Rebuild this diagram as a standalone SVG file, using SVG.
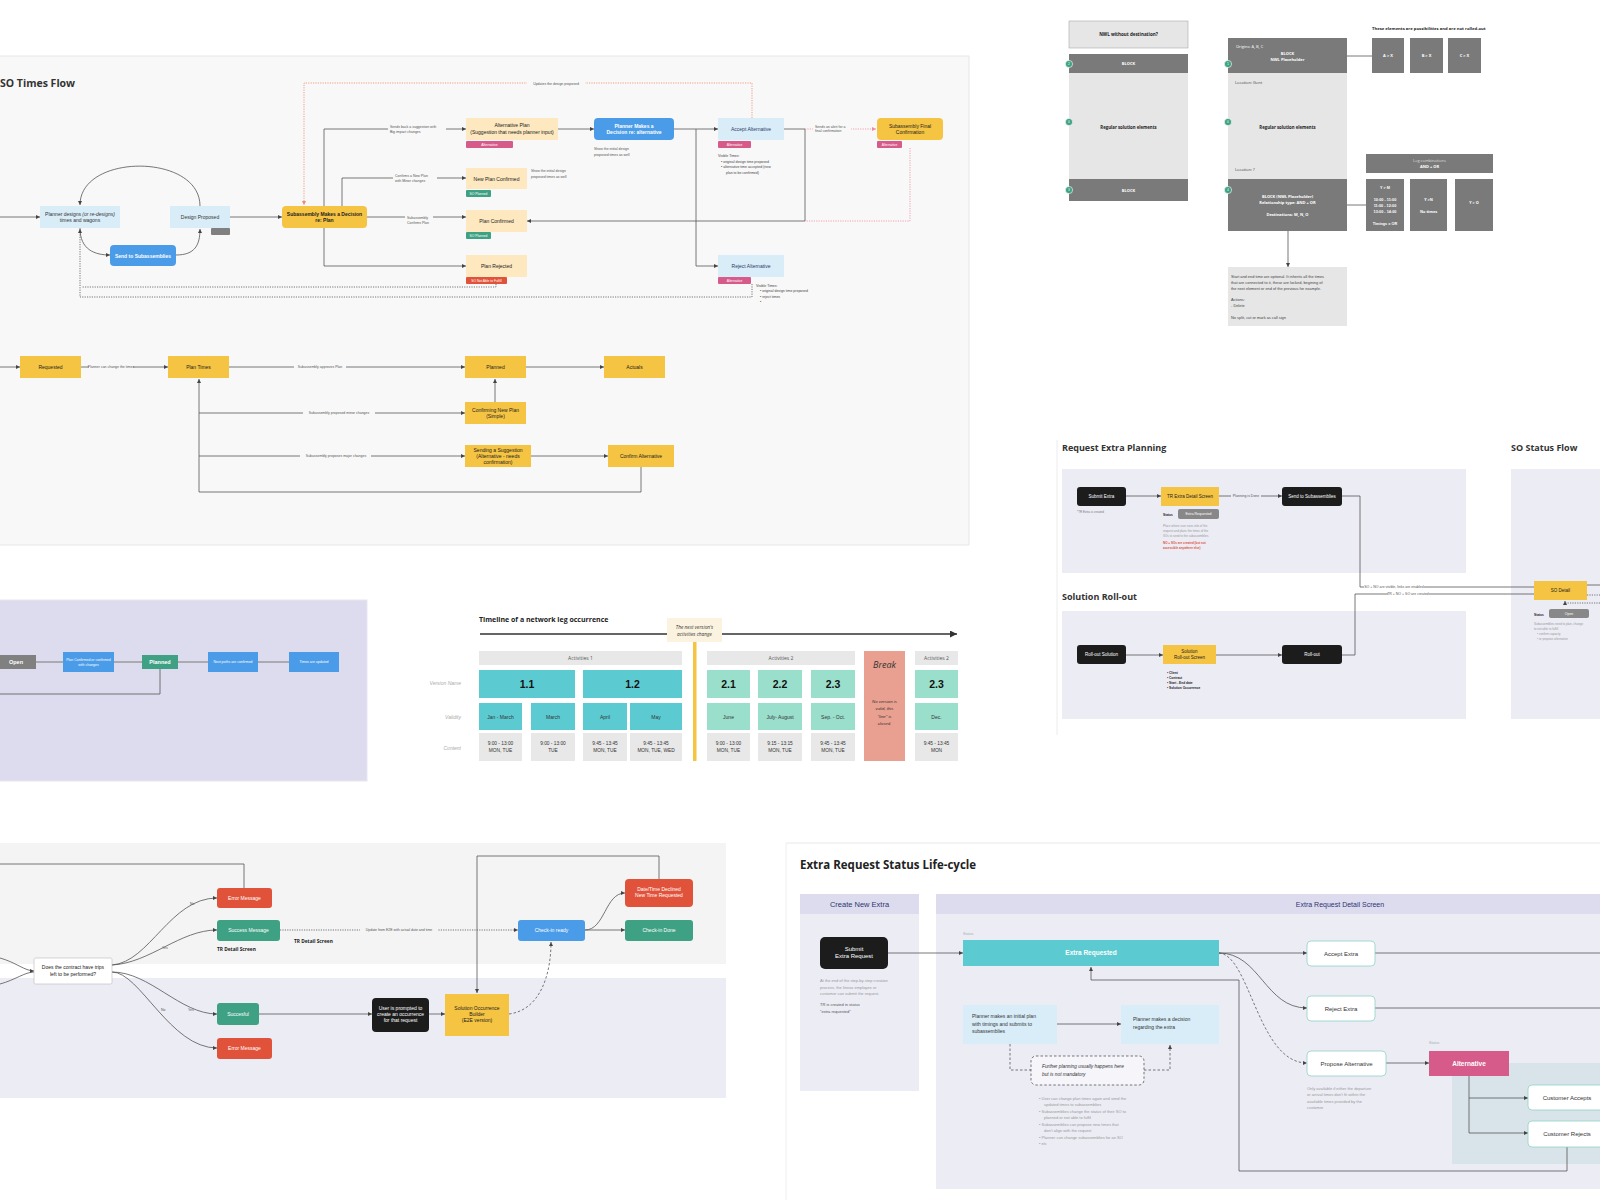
<svg xmlns="http://www.w3.org/2000/svg" width="1600" height="1200" viewBox="0 0 1600 1200">
<style>
text{font-family:"Liberation Sans",Arial,sans-serif}
.os{font-family:"Open Sans","Liberation Sans",sans-serif}
.m{text-anchor:middle}
.b{font-weight:bold}
.i{font-style:italic}
.w{fill:#fff}
.g{fill:#777}
.lb{font-size:3.5px;fill:#555}
.n5{font-size:5px}
.ln{fill:none;stroke:#555;stroke-width:0.8}
.lt{fill:none;stroke:#888;stroke-width:1.2}
.dt{stroke-dasharray:1.2 1.2}
.ds{stroke-dasharray:2.5 2}
.or{fill:none;stroke:#f0876a;stroke-width:0.8;stroke-dasharray:1.2 1.2}
.pk{fill:none;stroke:#f08ca0;stroke-width:0.8;stroke-dasharray:1.2 1.2}
.yel{fill:#f6c443}
.blu{fill:#4a9be8}
.lbl{fill:#d9edf8}
.pch{fill:#fde8bf}
.pnk{fill:#d65b8b}
.grn{fill:#3fa184}
.red{fill:#e0523a}
.blk{fill:#1c1c1c}
.dk{fill:#7a7a7a}
.lg{fill:#e6e6e6}
.tl{fill:#5ccbd1}
.mt{fill:#9adfcc}
.cg{fill:#e8e8e8}
.wb{fill:#fff;stroke:#8fd3c4;stroke-width:0.8}
.gc{fill:#3fa184;stroke:#fff;stroke-width:0.6}
</style>
<defs>
<marker id="a" viewBox="0 0 6 6" refX="6" refY="3" markerWidth="4" markerHeight="4" markerUnits="userSpaceOnUse" orient="auto"><path d="M0,0L6,3L0,6z" fill="#444"/></marker>
<marker id="ao" viewBox="0 0 6 6" refX="6" refY="3" markerWidth="4" markerHeight="4" markerUnits="userSpaceOnUse" orient="auto"><path d="M0,0L6,3L0,6z" fill="#f0876a"/></marker>
<marker id="ak" viewBox="0 0 6 6" refX="6" refY="3" markerWidth="4" markerHeight="4" markerUnits="userSpaceOnUse" orient="auto"><path d="M0,0L6,3L0,6z" fill="#f08ca0"/></marker>
<marker id="ab" viewBox="0 0 6 6" refX="6" refY="3" markerWidth="7" markerHeight="7" markerUnits="userSpaceOnUse" orient="auto"><path d="M0,0L6,3L0,6z" fill="#333"/></marker>
</defs>
<rect width="1600" height="1200" fill="#fff"/>

<!-- panels / backgrounds -->
<g id="panels">
<rect x="-1" y="56" width="970" height="489" fill="#f8f8f8" stroke="#e2e2e2" stroke-width="0.8"/>
<rect x="-1" y="600" width="368" height="181" fill="#dcdcee" stroke="#e6e6f0" stroke-width="1"/>
<rect x="1062" y="469" width="404" height="104" fill="#ececf5"/>
<rect x="1062" y="611" width="404" height="108" fill="#ececf5"/>
<rect x="1511" y="469" width="100" height="250" fill="#ececf5"/>
<line x1="1057" y1="440" x2="1057" y2="735" stroke="#ececec" stroke-width="1"/>
<rect x="-1" y="843" width="727" height="121" fill="#f4f4f4"/>
<rect x="-1" y="978" width="727" height="120" fill="#ececf5"/>
<line x1="786" y1="843" x2="1600" y2="843" stroke="#e8e8e8" stroke-width="1"/>
<line x1="786" y1="843" x2="786" y2="1200" stroke="#eeeeee" stroke-width="1"/>
<rect x="800" y="894" width="119" height="197" fill="#ececf5"/>
<rect x="800" y="894" width="119" height="20" fill="#dcdcee"/>
<rect x="936" y="894" width="670" height="295" fill="#ececf5"/>
<rect x="936" y="894" width="670" height="20" fill="#dcdcee"/>
<rect x="1452" y="1063" width="150" height="101" fill="#d8e4ea"/>
</g>

<!-- titles -->
<g id="titles" fill="#222">
<text x="0" y="87" class="os b" font-size="10.5" fill="#333">SO Times Flow</text>
<text x="1062" y="451" class="os b" font-size="9" fill="#333">Request Extra Planning</text>
<text x="1062" y="600" class="os b" font-size="9" fill="#333">Solution Roll-out</text>
<text x="1511" y="451" class="os b" font-size="9" fill="#333">SO Status Flow</text>
<text x="479" y="622" class="os b" font-size="7" fill="#222">Timeline of a network leg occurrence</text>
<text x="800" y="869" class="os b" font-size="11.5" fill="#222">Extra Request Status Life-cycle</text>
<text x="859.5" y="906.5" class="m" font-size="7.5" fill="#2f3470">Create New Extra</text>
<text x="1340" y="906.5" class="m" font-size="7" fill="#2f3470">Extra Request Detail Screen</text>
</g>

<!-- connectors -->
<g id="connectors">
<path class="ln" d="M0,217H40" marker-end="url(#a)"/>
<path class="ln" d="M200,206C200,153 80,153 80,205" marker-end="url(#a)"/>
<path class="ln" d="M80,228C80,250 95,255 110,255" marker-end="url(#a)"/>
<path class="ln" d="M176,255C195,255 200,245 200,229" marker-end="url(#a)"/>
<path class="ln" d="M230,217H282" marker-end="url(#a)"/>
<path class="ln" d="M324,206V129H466" marker-end="url(#a)"/>
<path class="ln" d="M342,206V178H466" marker-end="url(#a)"/>
<path class="ln" d="M367,217H466" marker-end="url(#a)"/>
<path class="ln" d="M324,228V266H466" marker-end="url(#a)"/>
<path class="ln" d="M558,129H594" marker-end="url(#a)"/>
<path class="ln" d="M674,129H718" marker-end="url(#a)"/>
<path class="ln" d="M696,129V266H718" marker-end="url(#a)"/>
<path class="ln" d="M784,129H805V221H527" marker-end="url(#a)"/>
<path class="or" d="M752,118V83H304V205" marker-end="url(#ao)"/>
<path class="pk" d="M805,129H876" marker-end="url(#ak)"/>
<path class="pk" d="M910,148V221H805"/>
<path class="ln dt" d="M752,284V297H80V229" stroke="#888" marker-end="url(#a)"/>
<path class="ln dt" d="M496,284V287H82" stroke="#888"/>
<rect x="388" y="124" width="58" height="10" fill="#f8f8f8"/>
<text x="390" y="127.5" class="lb">Sends back a suggestion with</text>
<text x="390" y="132.5" class="lb">Big impact changes</text>
<rect x="393" y="173" width="44" height="10" fill="#f8f8f8"/>
<text x="395" y="176.5" class="lb">Confirms a New Plan</text>
<text x="395" y="181.5" class="lb">with Minor changes</text>
<rect x="405" y="215" width="28" height="10" fill="#f8f8f8"/>
<text x="407" y="219" class="lb">Subassembly</text>
<text x="407" y="224" class="lb">Confirms Plan</text>
<rect x="527" y="81" width="58" height="5" fill="#f8f8f8"/>
<text x="556" y="84.5" class="lb m">Updates the design proposed</text>
<rect x="813" y="124" width="38" height="10" fill="#f8f8f8"/>
<text x="815" y="127.5" class="lb" font-size="3">Sends an alert for a</text>
<text x="815" y="132" class="lb" font-size="3">final confirmation</text>

<path class="ln" d="M0,367H20" marker-end="url(#a)"/>
<path class="ln" d="M81,367H168" marker-end="url(#a)"/>
<path class="ln" d="M229,367H465" marker-end="url(#a)"/>
<path class="ln" d="M526,367H604" marker-end="url(#a)"/>
<path class="ln" d="M495,402V379" marker-end="url(#a)"/>
<path class="ln" d="M641,467V492H199V379" marker-end="url(#a)"/>
<path class="ln" d="M199,413H465" marker-end="url(#a)"/>
<path class="ln" d="M199,456H465" marker-end="url(#a)"/>
<path class="ln" d="M531,456H608" marker-end="url(#a)"/>
<rect x="89" y="365" width="44" height="4" fill="#f8f8f8"/>
<text x="111" y="368.2" class="lb m" font-size="3">Planner can change the times</text>
<rect x="294" y="365" width="52" height="4" fill="#f8f8f8"/>
<text x="320" y="368.2" class="lb m" font-size="3.2">Subassembly approves Plan</text>
<rect x="303" y="411" width="72" height="4" fill="#f8f8f8"/>
<text x="339" y="414.2" class="lb m" font-size="3.2">Subassembly proposed minor changes</text>
<rect x="300" y="454" width="71" height="4" fill="#f8f8f8"/>
<text x="336" y="457.2" class="lb m" font-size="3.2">Subassembly proposes major changes</text>

<path class="ln" d="M1347,56H1372" stroke="#999"/>
<path class="ln" d="M1347,205H1366" stroke="#999"/>
<path class="ln" d="M1288,231V267" stroke="#999" marker-end="url(#a)"/>

<path class="lt" d="M36,662H63"/>
<path class="lt" d="M114,662H142"/>
<path class="lt" d="M178,662H208"/>
<path class="lt" d="M258,662H289"/>
<path class="ln" d="M160,669V694H0" stroke="#888"/>

<path class="ln" d="M1126,496H1161" marker-end="url(#a)"/>
<path class="ln" d="M1219,496H1282" marker-end="url(#a)"/>
<rect x="1231" y="494" width="30" height="4" fill="#ececf5"/>
<text x="1246" y="497.2" class="lb m" font-size="3">Planning is Done</text>
<path class="ln" d="M1126,655H1163" marker-end="url(#a)"/>
<path class="ln" d="M1216,655H1282" marker-end="url(#a)"/>
<path class="ln" d="M1342,496H1360V587H1534" stroke="#888"/>
<path class="ln" d="M1342,655H1355V594H1534" stroke="#888"/>
<rect x="1364" y="585" width="60" height="4" fill="#fff"/>
<text x="1394" y="588.2" class="lb m" font-size="2.8">SO + NO are visible, links are enabled</text>
<rect x="1388" y="592" width="41" height="4" fill="#fff"/>
<text x="1408" y="595.2" class="lb m" font-size="2.8">TR + NO + SO are created</text>
<path class="ln" d="M1587,585H1600" stroke="#888"/>
<path class="ln dt" d="M1587,595H1600" stroke="#888"/>
<path class="ln dt" d="M1600,603H1565V601" stroke="#888" marker-end="url(#a)"/>

<path class="ln" d="M0,864H244V888" stroke="#888"/>
<path class="ln" d="M0,958C15,962 25,971 34,971" stroke="#888" marker-end="url(#a)"/>
<path class="ln" d="M0,984C15,980 25,972 34,972" stroke="#888"/>
<path class="ln" d="M112,965C150,962 170,898 217,898" stroke="#888" marker-end="url(#a)"/>
<path class="ln" d="M112,965C150,963 180,930 217,930" stroke="#888" marker-end="url(#a)"/>
<path class="ln" d="M112,972C150,972 180,1014 217,1014" stroke="#888" marker-end="url(#a)"/>
<path class="ln" d="M112,972C140,972 170,1048 217,1048" stroke="#888" marker-end="url(#a)"/>
<text x="190" y="905" class="lb" font-size="2.8">No</text>
<text x="162" y="949" class="lb" font-size="2.8">Yes</text>
<text x="188" y="1011" class="lb" font-size="2.8">Yes</text>
<text x="161" y="1011" class="lb" font-size="2.8">No</text>
<path class="ln dt" d="M280,930H518" stroke="#777" marker-end="url(#a)"/>
<rect x="360" y="928" width="78" height="4" fill="#f4f4f4"/>
<text x="399" y="931.2" class="lb m" font-size="2.8">Update from E2E with actual date and time</text>
<path class="ln" d="M259,1014H372" stroke="#777" marker-end="url(#a)"/>
<path class="ln" d="M429,1014H445" stroke="#777" marker-end="url(#a)"/>
<path class="ln ds" d="M509,1014C540,1010 551,975 551,942" stroke="#777" marker-end="url(#a)"/>
<path class="ln" d="M585,930C605,930 605,893 625,893" stroke="#777" marker-end="url(#a)"/>
<path class="ln" d="M585,930H625" stroke="#777" marker-end="url(#a)"/>
<path class="ln" d="M659,879V856H477V993" stroke="#777" marker-end="url(#a)"/>

<path class="ln" d="M888,953H963" stroke="#888" marker-end="url(#a)"/>
<path class="ln" d="M1219,953H1307" marker-end="url(#a)"/>
<path class="ln" d="M1219,953C1260,953 1265,1008 1307,1008" marker-end="url(#a)"/>
<path class="ln ds" d="M1219,953C1250,955 1258,1063 1307,1063" marker-end="url(#a)"/>
<path class="ln" d="M1375,953H1600" stroke="#888"/>
<path class="ln" d="M1375,1008H1600" stroke="#888"/>
<path class="ln" d="M1386,1063H1429" stroke="#888" marker-end="url(#a)"/>
<path class="ln" d="M1469,1076V1133H1528" marker-end="url(#a)"/>
<path class="ln" d="M1469,1098H1528" marker-end="url(#a)"/>
<path class="ln" d="M1567,1147V1171H1239V980H1091V967" marker-end="url(#a)"/>
<path class="ln" d="M1057,1024H1121" marker-end="url(#a)"/>
<path class="ln ds" d="M1010,1044V1070H1031" stroke="#777"/>
<path class="ln ds" d="M1144,1070H1170V1045" stroke="#777" marker-end="url(#a)"/>

<path d="M480,634H667M722,634H957" stroke="#333" stroke-width="1.6" fill="none" marker-end="url(#ab)"/>
</g>

<!-- SO Times Flow nodes -->
<g fill="#222">
<g id="n-planner"><rect x="40" y="206" width="80" height="22" class="lbl"/><text x="80" y="215.5" class="m n5" fill="#333">Planner designs <tspan class="i">(or re-designs)</tspan></text><text x="80" y="222" class="m n5" fill="#333">times and wagons</text></g>
<g id="n-design"><rect x="170" y="206" width="60" height="22" class="lbl"/><text x="200" y="219" class="m n5" fill="#333">Design Proposed</text><rect x="211" y="228" width="19" height="7" rx="1" fill="#808080"/></g>
<g id="n-send"><rect x="110" y="245" width="66" height="21" rx="4" class="blu"/><text x="143" y="257.5" class="m n5 b w">Send to Subassemblies</text></g>
<g id="n-decision"><rect x="282" y="206" width="85" height="22" rx="4" class="yel"/><text x="324.5" y="215.5" class="m n5 b">Subassembly Makes a Decision</text><text x="324.5" y="222" class="m n5 b">re: Plan</text></g>
<g id="n-altplan"><rect x="466" y="118" width="92" height="22" class="pch"/><text x="512" y="127" class="m n5">Alternative Plan</text><text x="512" y="133.5" class="m n5">(Suggestion that needs planner input)</text><rect x="466" y="141" width="47" height="7" rx="1" class="pnk"/><text x="489.5" y="146" class="m w" font-size="3.5">Alternative</text></g>
<g id="n-newplan"><rect x="466" y="168" width="61" height="21" class="pch"/><text x="496.5" y="180.5" class="m n5">New Plan Confirmed</text><rect x="466" y="190" width="25" height="7" rx="1" class="grn"/><text x="478.5" y="195" class="m w" font-size="3.3">SO Planned</text></g>
<text x="531" y="172" class="lb">Show the initial design</text>
<text x="531" y="177.5" class="lb">proposed times as well</text>
<g id="n-planconf"><rect x="466" y="210" width="61" height="22" class="pch"/><text x="496.5" y="222.5" class="m n5">Plan Confirmed</text><rect x="466" y="232" width="25" height="7" rx="1" class="grn"/><text x="478.5" y="237" class="m w" font-size="3.3">SO Planned</text></g>
<g id="n-planrej"><rect x="466" y="255" width="61" height="22" class="pch"/><text x="496.5" y="267.5" class="m n5">Plan Rejected</text><rect x="466" y="277" width="41" height="7" rx="1" class="red"/><text x="486.5" y="282" class="m w" font-size="3.3">SO Not Able to Fulfill</text></g>
<g id="n-plannerdec"><rect x="594" y="118" width="80" height="22" rx="4" class="blu"/><text x="634" y="127.5" class="m n5 b w">Planner Makes a</text><text x="634" y="134" class="m n5 b w">Decision re: alternative</text></g>
<text x="594" y="150" class="lb">Show the initial design</text>
<text x="594" y="155.5" class="lb">proposed times as well</text>
<g id="n-accept"><rect x="718" y="118" width="66" height="22" class="lbl"/><text x="751" y="130.5" class="m n5" fill="#2a3a6a">Accept Alternative</text><rect x="718" y="141" width="33" height="7" rx="1" class="pnk"/><text x="734.5" y="146" class="m w" font-size="3.3">Alternative</text></g>
<g font-size="3.5" fill="#444"><text x="718" y="157">Visible Times:</text><text x="721" y="162.5">•  original design time proposed</text><text x="721" y="168">•  alternative time accepted (new</text><text x="726" y="173.5">plan to be confirmed)</text></g>
<g id="n-reject"><rect x="718" y="255" width="66" height="22" class="lbl"/><text x="751" y="267.5" class="m n5" fill="#2a3a6a">Reject Alternative</text><rect x="718" y="277" width="33" height="7" rx="1" class="pnk"/><text x="734.5" y="282" class="m w" font-size="3.3">Alternative</text></g>
<g font-size="3.5" fill="#444"><text x="756" y="286.5">Visible Times:</text><text x="760" y="292">•  original design time proposed</text><text x="760" y="297.5">•  reject times</text><text x="760" y="302.5">•</text></g>
<g id="n-final"><rect x="877" y="118" width="66" height="22" rx="4" class="yel"/><text x="910" y="127.5" class="m n5">Subassembly Final</text><text x="910" y="134" class="m n5">Confirmation</text><rect x="877" y="141" width="25" height="7" rx="1" class="pnk"/><text x="889.5" y="146" class="m w" font-size="3.3">Alternative</text></g>

<g id="n-requested"><rect x="20" y="356" width="61" height="22" class="yel"/><text x="50.5" y="368.8" class="m n5">Requested</text></g>
<g id="n-plantimes"><rect x="168" y="356" width="61" height="22" class="yel"/><text x="198.5" y="368.8" class="m n5">Plan Times</text></g>
<g id="n-planned"><rect x="465" y="356" width="61" height="22" class="yel"/><text x="495.5" y="368.8" class="m n5">Planned</text></g>
<g id="n-actuals"><rect x="604" y="356" width="61" height="22" class="yel"/><text x="634.5" y="368.8" class="m n5">Actuals</text></g>
<g id="n-confirming"><rect x="465" y="402" width="61" height="22" class="yel"/><text x="495.5" y="411.5" class="m n5">Confirming New Plan</text><text x="495.5" y="418" class="m n5">(Simple)</text></g>
<g id="n-sending"><rect x="465" y="445" width="66" height="22" class="yel"/><text x="498" y="451.5" class="m n5">Sending a Suggestion</text><text x="498" y="457.5" class="m n5">(Alternative - needs</text><text x="498" y="463.5" class="m n5">confirmation)</text></g>
<g id="n-confirmalt"><rect x="608" y="445" width="66" height="22" class="yel"/><text x="641" y="457.8" class="m n5">Confirm Alternative</text></g>

<!-- top right blocks -->
<g id="n-nwl"><rect x="1069" y="21" width="119" height="27" class="lg" stroke="#aaa" stroke-width="0.6"/><text x="1128.5" y="36" class="os m b" font-size="4.5">NWL without destination?</text></g>
<g id="n-leftcol">
<rect x="1069" y="54" width="119" height="19" class="dk"/><text x="1128.5" y="65" class="os m b w" font-size="4">BLOCK</text>
<rect x="1069" y="73" width="119" height="106" class="lg"/><text x="1128.5" y="128.5" class="os m b" font-size="4.3">Regular solution elements</text>
<rect x="1069" y="179" width="119" height="22" class="dk"/><text x="1128.5" y="191.5" class="os m b w" font-size="4">BLOCK</text>
<circle cx="1069" cy="64" r="3.6" class="gc"/><circle cx="1069" cy="122" r="3.6" class="gc"/><circle cx="1069" cy="190" r="3.6" class="gc"/>
<text x="1069" y="65.2" class="m w" font-size="3.2">2</text><text x="1069" y="123.2" class="m w" font-size="3.2">0</text><text x="1069" y="191.2" class="m w" font-size="3.2">3</text>
</g>
<g id="n-rightcol">
<rect x="1228" y="38" width="119" height="35" class="dk"/>
<text x="1236" y="47.5" class="os w" font-size="4">Origins: A, B, C</text>
<text x="1287.5" y="54.5" class="os m b w" font-size="4">BLOCK</text>
<text x="1287.5" y="60.5" class="os m b w" font-size="4">NWL Placeholder</text>
<rect x="1228" y="73" width="119" height="106" class="lg"/>
<text x="1235" y="83.5" class="os" font-size="4" fill="#444">Location: Gent</text>
<text x="1287.5" y="128.5" class="os m b" font-size="4.3">Regular solution elements</text>
<text x="1235" y="170.5" class="os" font-size="4" fill="#444">Location: ?</text>
<rect x="1228" y="179" width="119" height="52" class="dk"/>
<text x="1287.5" y="197.5" class="os m b w" font-size="4">BLOCK (NWL Placeholder)</text>
<text x="1287.5" y="203.5" class="os m b w" font-size="4">Relationship type: AND + OR</text>
<text x="1287.5" y="215.5" class="os m b w" font-size="4">Destinations: M, N, O</text>
<circle cx="1228" cy="64" r="3.6" class="gc"/><circle cx="1228" cy="122" r="3.6" class="gc"/><circle cx="1228" cy="190" r="3.6" class="gc"/>
<text x="1228" y="65.2" class="m w" font-size="3.2">1</text><text x="1228" y="123.2" class="m w" font-size="3.2">0</text><text x="1228" y="191.2" class="m w" font-size="3.2">4</text>
</g>
<text x="1372" y="29.5" class="os b" font-size="4.2">These elements are possibilities and are not rolled-out</text>
<g id="n-ax"><rect x="1372" y="38" width="32" height="35" class="dk"/><text x="1388" y="57" class="os m b w" font-size="4">A &gt; X</text></g>
<g id="n-bx"><rect x="1410" y="38" width="33" height="35" class="dk"/><text x="1426.5" y="57" class="os m b w" font-size="4">B &gt; X</text></g>
<g id="n-cx"><rect x="1448" y="38" width="33" height="35" class="dk"/><text x="1464.5" y="57" class="os m b w" font-size="4">C &gt; X</text></g>
<g id="n-legcomb"><rect x="1366" y="154" width="127" height="19" class="dk"/><text x="1429.5" y="162" class="os m" font-size="4" fill="#ddd">Leg combinations</text><text x="1429.5" y="168" class="os m b w" font-size="4">AND + OR</text></g>
<g id="n-ym"><rect x="1366" y="179" width="38" height="52" class="dk"/><g class="os b" font-size="3.8"><text x="1385" y="188.5" class="m w">Y &gt; M</text><text x="1385" y="200.5" class="m w">10:00 - 11:00</text><text x="1385" y="206.5" class="m w">11:00 - 12:00</text><text x="1385" y="212.5" class="m w">13:00 - 14:00</text><text x="1385" y="224.5" class="m w">Timings = OR</text></g></g>
<g id="n-yn"><rect x="1410" y="179" width="37" height="52" class="dk"/><text x="1428.5" y="200.5" class="os m b w" font-size="3.8">Y &gt;N</text><text x="1428.5" y="212.5" class="os m b w" font-size="3.8">No times</text></g>
<g id="n-yo"><rect x="1455" y="179" width="38" height="52" class="dk"/><text x="1474" y="203.5" class="os m b w" font-size="3.8">Y &gt; O</text></g>
<g id="n-note"><rect x="1228" y="267" width="119" height="59" class="lg"/>
<g class="os" font-size="3.9" fill="#444"><text x="1231" y="277.5">Start and end time are optional. It inherits all the times</text><text x="1231" y="283.5">that are connected to it, these are locked, begining of</text><text x="1231" y="289.5">the next element or end of the previous for example.</text><text x="1231" y="301">Actions:</text><text x="1231" y="307">- Delete</text><text x="1231" y="318.5">No split, cut or mark as call sign</text></g></g>

<!-- request extra planning nodes -->
<g id="n-submitextra"><rect x="1077" y="487" width="49" height="19" rx="3" class="blk"/><text x="1101.5" y="498" class="m w" font-size="4.5">Submit Extra</text></g>
<text x="1077" y="513" class="g" font-size="3">*TR Extra is created</text>
<g id="n-trextra"><rect x="1161" y="487" width="58" height="19" class="yel"/><text x="1190" y="498" class="m" font-size="4.5">TR Extra Detail Screen</text></g>
<text x="1163" y="515.5" class="b" font-size="3.2">Status</text>
<rect x="1178" y="509" width="41" height="10" rx="2" fill="#888"/><text x="1198.5" y="515.3" class="m w" font-size="3.5">Extra Requested</text>
<g font-size="3" fill="#999"><text x="1163" y="527">Place where user sees info of the</text><text x="1163" y="532">request and plans the times of the</text><text x="1163" y="537">SOs to send to the subassemblies</text></g>
<g font-size="3" fill="#e0523a" class="b"><text x="1163" y="544">NO + SOs are created (but not</text><text x="1163" y="549">accessible anywhere else)</text></g>
<g id="n-sendsub"><rect x="1282" y="487" width="60" height="19" rx="3" class="blk"/><text x="1312" y="498" class="m w" font-size="4.5">Send to Subassemblies</text></g>
<g id="n-rolloutsol"><rect x="1077" y="645" width="49" height="19" rx="3" class="blk"/><text x="1101.5" y="656" class="m w" font-size="4.5">Roll-out Solution</text></g>
<g id="n-solscreen"><rect x="1163" y="645" width="53" height="19" class="yel"/><text x="1189.5" y="653" class="m" font-size="4.5">Solution</text><text x="1189.5" y="658.5" class="m" font-size="4.5">Roll-out Screen</text></g>
<g font-size="3.2" class="b"><text x="1167" y="674">•  Client</text><text x="1167" y="679">•  Contract</text><text x="1167" y="684">•  Start - End date</text><text x="1167" y="689">•  Solution Occurrence</text></g>
<g id="n-rollout"><rect x="1282" y="645" width="60" height="19" rx="3" class="blk"/><text x="1312" y="656" class="m w" font-size="4.5">Roll-out</text></g>
<g id="n-sodetail"><rect x="1534" y="581" width="53" height="19" class="yel"/><text x="1560.5" y="592" class="m" font-size="4.5">SO Detail</text></g>
<text x="1534" y="615.5" class="b" font-size="3.2">Status</text>
<rect x="1549" y="609" width="40" height="9" rx="2" fill="#888"/><text x="1569" y="615" class="m w" font-size="3.5">Open</text>
<g font-size="3" fill="#999"><text x="1534" y="625">Subassemblies need to plan, change</text><text x="1534" y="630">to not able to fulfill</text><text x="1537" y="635">•  confirm capacity</text><text x="1537" y="640">•  or propose alternative</text></g>

<!-- left middle nodes -->
<g id="n-open"><rect x="-1" y="655" width="37" height="14" fill="#808080"/><text x="16" y="663.8" class="m b w" font-size="5.5">Open</text></g>
<g id="n-planconf2"><rect x="63" y="652" width="51" height="20" class="blu"/><text x="88.5" y="661" class="m w" font-size="3.5">Plan Confirmed or confirmed</text><text x="88.5" y="665.5" class="m w" font-size="3.5">with changes</text></g>
<g id="n-planned2"><rect x="142" y="655" width="36" height="14" class="grn"/><text x="160" y="663.8" class="m b w" font-size="5.5">Planned</text></g>
<g id="n-nextpaths"><rect x="208" y="652" width="50" height="20" class="blu"/><text x="233" y="663.2" class="m w" font-size="3.5">Next paths are confirmed</text></g>
<g id="n-timesupd"><rect x="289" y="652" width="50" height="20" class="blu"/><text x="314" y="663.2" class="m w" font-size="3.5">Times are updated</text></g>

<!-- timeline -->
<g id="timeline">
<rect x="667" y="618" width="55" height="24" fill="#fbf3e0"/>
<text x="694.5" y="629" class="os m i" font-size="4.8" fill="#333">The next version's</text>
<text x="694.5" y="636" class="os m i" font-size="4.8" fill="#333">activities change</text>
<rect x="693" y="642" width="3.5" height="119" class="yel"/>
<rect x="479" y="651" width="203" height="14" class="cg"/><text x="580.5" y="660" class="os m" font-size="5" fill="#555">Activities 1</text>
<rect x="707" y="651" width="148" height="14" class="cg"/><text x="781" y="660" class="os m" font-size="5" fill="#555">Activities 2</text>
<rect x="915" y="651" width="43" height="14" class="cg"/><text x="936.5" y="660" class="os m" font-size="5" fill="#555">Activities 2</text>
<rect x="864" y="651" width="41" height="110" fill="#e9a090"/>
<text x="884.5" y="668" class="os m i" font-size="9" fill="#333">Break</text>
<g class="os i" font-size="4.3" fill="#333"><text x="884.5" y="702.5" class="m">No version is</text><text x="884.5" y="710" class="m">valid, this</text><text x="884.5" y="717.5" class="m">"line" is</text><text x="884.5" y="725" class="m">closed.</text></g>
<g class="os i" font-size="5" fill="#aaa"><text x="461" y="685" text-anchor="end">Version Name</text><text x="461" y="719" text-anchor="end">Validity</text><text x="461" y="750" text-anchor="end">Content</text></g>
<rect x="479" y="670" width="96" height="28" class="tl"/><rect x="583" y="670" width="99" height="28" class="tl"/>
<rect x="707" y="670" width="43" height="28" class="mt"/><rect x="758" y="670" width="44" height="28" class="mt"/><rect x="811" y="670" width="44" height="28" class="mt"/><rect x="915" y="670" width="43" height="28" class="mt"/>
<g class="os b" font-size="10.5" fill="#111"><text x="527" y="688" class="m">1.1</text><text x="632.5" y="688" class="m">1.2</text><text x="728.5" y="688" class="m">2.1</text><text x="780" y="688" class="m">2.2</text><text x="833" y="688" class="m">2.3</text><text x="936.5" y="688" class="m">2.3</text></g>
<rect x="479" y="703" width="43" height="27" class="tl"/><rect x="531" y="703" width="44" height="27" class="tl"/><rect x="583" y="703" width="44" height="27" class="tl"/><rect x="630" y="703" width="52" height="27" class="tl"/>
<rect x="707" y="703" width="43" height="27" class="mt"/><rect x="758" y="703" width="44" height="27" class="mt"/><rect x="811" y="703" width="44" height="27" class="mt"/><rect x="915" y="703" width="43" height="27" class="mt"/>
<g class="os" font-size="5" fill="#333"><text x="500.5" y="718.5" class="m">Jan - March</text><text x="553" y="718.5" class="m">March</text><text x="605" y="718.5" class="m">April</text><text x="656" y="718.5" class="m">May</text><text x="728.5" y="718.5" class="m">June</text><text x="780" y="718.5" class="m">July- August</text><text x="833" y="718.5" class="m">Sep. - Oct.</text><text x="936.5" y="718.5" class="m">Dec.</text></g>
<rect x="479" y="733" width="43" height="28" class="cg"/><rect x="531" y="733" width="44" height="28" class="cg"/><rect x="583" y="733" width="44" height="28" class="cg"/><rect x="630" y="733" width="52" height="28" class="cg"/>
<rect x="707" y="733" width="43" height="28" class="cg"/><rect x="758" y="733" width="44" height="28" class="cg"/><rect x="811" y="733" width="44" height="28" class="cg"/><rect x="915" y="733" width="43" height="28" class="cg"/>
<g class="os" font-size="4.8" fill="#333">
<text x="500.5" y="745" class="m">9:00 - 13:00</text><text x="500.5" y="752" class="m">MON, TUE</text>
<text x="553" y="745" class="m">9:00 - 13:00</text><text x="553" y="752" class="m">TUE</text>
<text x="605" y="745" class="m">9:45 - 13:45</text><text x="605" y="752" class="m">MON, TUE</text>
<text x="656" y="745" class="m">9:45 - 13:45</text><text x="656" y="752" class="m">MON, TUE, WED</text>
<text x="728.5" y="745" class="m">9:00 - 13:00</text><text x="728.5" y="752" class="m">MON, TUE</text>
<text x="780" y="745" class="m">9:15 - 13:15</text><text x="780" y="752" class="m">MON, TUE</text>
<text x="833" y="745" class="m">9:45 - 13:45</text><text x="833" y="752" class="m">MON, TUE</text>
<text x="936.5" y="745" class="m">9:45 - 13:45</text><text x="936.5" y="752" class="m">MON</text>
</g>
</g>

<!-- bottom left nodes -->
<g id="n-err1"><rect x="217" y="888" width="55" height="20" rx="3" class="red"/><text x="244.5" y="899.8" class="m w" font-size="5">Error Message</text></g>
<g id="n-succmsg"><rect x="217" y="920" width="63" height="21" rx="3" class="grn"/><text x="248.5" y="932.2" class="m w" font-size="5">Success Message</text></g>
<text x="217" y="951" class="os b" font-size="4.8">TR Detail Screen</text>
<text x="294" y="943" class="os b" font-size="4.8">TR Detail Screen</text>
<g id="n-question"><rect x="34" y="958" width="78" height="26" rx="1.5" fill="#fff" stroke="#bbb" stroke-width="0.6"/><text x="73" y="969" class="m" font-size="5">Does the contract have trips</text><text x="73" y="976" class="m" font-size="5">left to be performed?</text></g>
<g id="n-succ"><rect x="217" y="1003" width="42" height="22" rx="3" class="grn"/><text x="238" y="1015.8" class="m w" font-size="5">Succesful</text></g>
<g id="n-err2"><rect x="217" y="1038" width="55" height="21" rx="3" class="red"/><text x="244.5" y="1050.3" class="m w" font-size="5">Error Message</text></g>
<g id="n-prompt"><rect x="372" y="998" width="57" height="34" rx="4" class="blk"/><text x="400.5" y="1010" class="m w" font-size="5">User is prompted to</text><text x="400.5" y="1016" class="m w" font-size="5">create an occurrence</text><text x="400.5" y="1022" class="m w" font-size="5">for that request</text></g>
<g id="n-sob"><rect x="445" y="994" width="64" height="42" class="yel"/><text x="477" y="1010" class="m" font-size="5">Solution Occurrence</text><text x="477" y="1016" class="m" font-size="5">Builder</text><text x="477" y="1022" class="m" font-size="5">(E2E version)</text></g>
<g id="n-checkready"><rect x="518" y="920" width="67" height="21" rx="3" class="blu"/><text x="551.5" y="932.2" class="m w" font-size="5">Check-in ready</text></g>
<g id="n-declined"><rect x="625" y="879" width="68" height="28" rx="4" class="red"/><text x="659" y="891" class="m w" font-size="5">Date/Time Declined</text><text x="659" y="897" class="m w" font-size="5">New Time Requested</text></g>
<g id="n-checkdone"><rect x="625" y="920" width="68" height="21" rx="3" class="grn"/><text x="659" y="932.2" class="m w" font-size="5">Check-in Done</text></g>

<!-- extra request nodes -->
<g id="n-submitreq"><rect x="820" y="937" width="68" height="32" rx="5" class="blk"/><text x="854" y="951" class="m w" font-size="6">Submit</text><text x="854" y="958" class="m w" font-size="6">Extra Request</text></g>
<g font-size="4" fill="#999"><text x="820" y="982">At the end of the step-by-step creation</text><text x="820" y="988.5">process, the lineas employee or</text><text x="820" y="995">customer can submit the request.</text></g>
<g font-size="4" fill="#555"><text x="820" y="1006">TR is created in status</text><text x="820" y="1012.5">"extra requested"</text></g>
<text x="963" y="935" font-size="3.6" fill="#aaa">Status</text>
<g id="n-extrareq"><rect x="963" y="940" width="256" height="26" class="tl"/><text x="1091" y="955" class="m b w" font-size="6.5">Extra Requested</text></g>
<g id="n-initplan"><rect x="963" y="1005" width="94" height="39" class="lbl"/><g font-size="5" fill="#333"><text x="972" y="1018">Planner makes an initial plan</text><text x="972" y="1025.5">with timings and submits to</text><text x="972" y="1033">subassemblies</text></g></g>
<g id="n-plandec"><rect x="1121" y="1005" width="98" height="39" class="lbl"/><g font-size="5" fill="#333"><text x="1133" y="1021">Planner makes a decision</text><text x="1133" y="1028.5">regarding the extra</text></g></g>
<g id="n-further"><rect x="1031" y="1056" width="113" height="29" rx="5" fill="#f5f5fa" stroke="#444" stroke-width="0.7" stroke-dasharray="2.5 2"/><text x="1042" y="1068" class="i" font-size="4.8" fill="#333">Further planning usually happens here</text><text x="1042" y="1075.5" class="i" font-size="4.8" fill="#333">but is not mandatory</text></g>
<g font-size="4" fill="#999"><text x="1039" y="1099.5">•  User can change plan times again and send the</text><text x="1044" y="1106">updated times to subassemblies</text><text x="1039" y="1112.5">•  Subassemblies change the status of their SO to</text><text x="1044" y="1119">planned or not able to fulfil</text><text x="1039" y="1125.5">•  Subassemblies can propose new times that</text><text x="1044" y="1132">don't align with the request</text><text x="1039" y="1138.5">•  Planner can change subassemblies for an SO</text><text x="1039" y="1145">•  etc</text></g>
<g id="n-acceptextra"><rect x="1307" y="941" width="68" height="25" rx="4" class="wb"/><text x="1341" y="955.5" class="m" font-size="6" fill="#333">Accept Extra</text></g>
<g id="n-rejectextra"><rect x="1307" y="996" width="68" height="25" rx="4" class="wb"/><text x="1341" y="1010.5" class="m" font-size="6" fill="#333">Reject Extra</text></g>
<g id="n-propose"><rect x="1307" y="1051" width="79" height="25" rx="4" class="wb"/><text x="1346.5" y="1065.5" class="m" font-size="6" fill="#333">Propose Alternative</text></g>
<g font-size="4" fill="#999"><text x="1307" y="1089.5">Only available if either the departure</text><text x="1307" y="1096">or arrival times don't fit within the</text><text x="1307" y="1102.5">available times provided by the</text><text x="1307" y="1109">customer</text></g>
<text x="1429" y="1043.5" font-size="3.6" fill="#aaa">Status</text>
<g id="n-alternative"><rect x="1429" y="1051" width="80" height="25" class="pnk"/><text x="1469" y="1065.5" class="m b w" font-size="6.5">Alternative</text></g>
<g id="n-custacc"><rect x="1528" y="1085" width="80" height="25" rx="4" class="wb"/><text x="1567" y="1099.5" class="m" font-size="6" fill="#333">Customer Accepts</text></g>
<g id="n-custrej"><rect x="1528" y="1121" width="80" height="26" rx="4" class="wb"/><text x="1567" y="1136" class="m" font-size="6" fill="#333">Customer Rejects</text></g>
</g>
</svg>
